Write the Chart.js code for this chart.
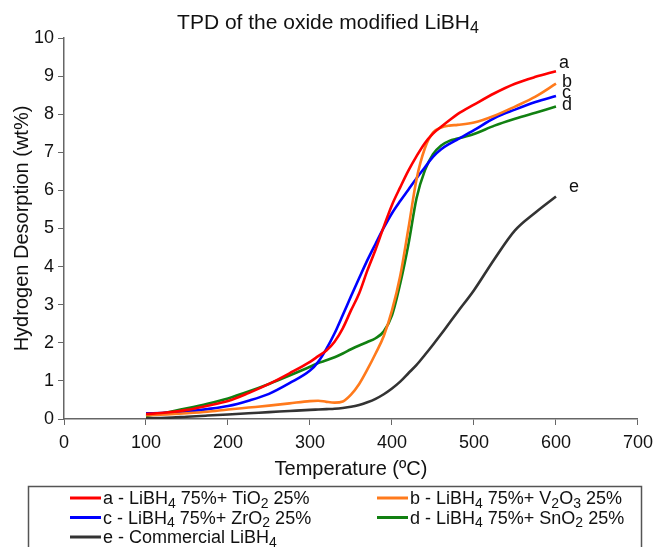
<!DOCTYPE html>
<html>
<head>
<meta charset="utf-8">
<script src="https://cdn.jsdelivr.net/npm/chart.js@4.4.0/dist/chart.umd.min.js"></script>
<style>
  html, body { margin: 0; padding: 0; background: #fff; }
</style>
</head>
<body>
<canvas id="tpd" width="660" height="547"></canvas>
<script>
// temperature (ºC) shared by all curves
var temperature = [100, 125, 150, 175, 200, 225, 250, 275, 300, 310, 320, 330, 340, 350, 360, 370,
                   380, 390, 400, 410, 420, 430, 440, 450, 460, 470, 480, 500, 525, 550, 575, 600];

// hydrogen desorbed (wt%)
var tio2 = [0.13, 0.17, 0.24, 0.35, 0.47, 0.68, 0.92, 1.20, 1.50, 1.65, 1.80, 2.03, 2.38, 2.85, 3.30, 3.90,
            4.45, 5.05, 5.62, 6.08, 6.52, 6.90, 7.24, 7.49, 7.67, 7.84, 8.00, 8.25, 8.55, 8.80, 8.98, 9.13];
var v2o3 = [0.10, 0.12, 0.15, 0.19, 0.25, 0.30, 0.35, 0.41, 0.47, 0.48, 0.45, 0.43, 0.46, 0.64, 0.92, 1.30,
            1.72, 2.18, 2.85, 3.75, 5.00, 6.30, 7.10, 7.52, 7.65, 7.70, 7.72, 7.78, 7.96, 8.20, 8.46, 8.80];
var zro2 = [0.15, 0.16, 0.20, 0.26, 0.34, 0.48, 0.66, 0.94, 1.27, 1.50, 1.84, 2.25, 2.73, 3.22, 3.70, 4.17,
            4.60, 5.02, 5.40, 5.72, 6.02, 6.32, 6.60, 6.88, 7.08, 7.22, 7.34, 7.58, 7.90, 8.12, 8.32, 8.48];
var sno2 = [0.08, 0.17, 0.28, 0.40, 0.54, 0.72, 0.92, 1.14, 1.37, 1.47, 1.54, 1.62, 1.72, 1.83, 1.93, 2.02,
            2.12, 2.30, 2.72, 3.55, 4.58, 5.80, 6.52, 6.95, 7.18, 7.30, 7.36, 7.48, 7.70, 7.88, 8.04, 8.20];
var commercial = [0.02, 0.03, 0.06, 0.09, 0.12, 0.15, 0.18, 0.21, 0.24, 0.25, 0.26, 0.27, 0.29, 0.32, 0.37, 0.44,
                  0.53, 0.65, 0.80, 0.98, 1.20, 1.42, 1.68, 1.95, 2.23, 2.52, 2.81, 3.38, 4.20, 4.95, 5.42, 5.84];

var seriesValues = [tio2, v2o3, zro2, sno2, commercial];
var seriesLabels = [
  'a - LiBH₄ 75%+ TiO₂ 25%',
  'b - LiBH₄ 75%+ V₂O₃ 25%',
  'c - LiBH₄ 75%+ ZrO₂ 25%',
  'd - LiBH₄ 75%+ SnO₂ 25%',
  'e - Commercial LiBH₄'
];
var curveTags = ['a', 'b', 'c', 'd', 'e'];
var seriesColors = ['#ff0000', '#ff7a1c', '#0000ff', '#118011', '#333333'];

var FONT = '"Liberation Sans", Arial, sans-serif';
var SUBS = '₀₁₂₃₄₅₆₇₈₉';

// draws text where unicode subscript digits are set smaller and lowered
function drawRich(ctx, text, x, y, size, align) {
  var runs = [], cur = '', sub = false;
  for (var ch of text) {
    var k = SUBS.indexOf(ch);
    var isSub = k >= 0;
    if (isSub !== sub && cur) { runs.push({t: cur, sub: sub}); cur = ''; }
    sub = isSub;
    cur += isSub ? String(k) : ch;
  }
  if (cur) runs.push({t: cur, sub: sub});
  var subSize = Math.round(size * 0.76);
  var total = 0;
  runs.forEach(function(r) {
    ctx.font = (r.sub ? subSize : size) + 'px ' + FONT;
    r.w = ctx.measureText(r.t).width;
    total += r.w;
  });
  var cx = align === 'center' ? x - total / 2 : x;
  ctx.textAlign = 'left';
  ctx.textBaseline = 'alphabetic';
  runs.forEach(function(r) {
    ctx.font = (r.sub ? subSize : size) + 'px ' + FONT;
    ctx.fillText(r.t, cx, y + (r.sub ? size * 0.22 : 0));
    cx += r.w;
  });
}

var decorations = {
  id: 'decorations',
  afterDraw: function(chart) {
    var ctx = chart.ctx;
    var xs = chart.scales.x, ys = chart.scales.y;
    ctx.save();
    ctx.fillStyle = '#111';

    // title
    drawRich(ctx, 'TPD of the oxide modified LiBH₄', 328, 28.5, 21, 'center');

    // curve tags at the end of each line
    var tagOffsets = [[3, -8], [6, -2], [6, -3], [6, -2], [13, -9]];
    ctx.font = '18px ' + FONT;
    ctx.textAlign = 'left';
    ctx.textBaseline = 'middle';
    chart.data.datasets.forEach(function(ds, i) {
      var last = ds.data[ds.data.length - 1];
      var px = xs.getPixelForValue(last.x) + tagOffsets[i][0];
      var py = ys.getPixelForValue(last.y) + tagOffsets[i][1];
      ctx.fillText(curveTags[i], px, py);
    });

    // boxed legend, two columns
    ctx.strokeStyle = '#555';
    ctx.lineWidth = 1.5;
    ctx.strokeRect(28.5, 486.5, 613, 80);
    chart.data.datasets.forEach(function(ds, i) {
      var col = i % 2, row = Math.floor(i / 2);
      var lx = col === 0 ? 70 : 377;
      var base = 504 + row * 19.5;
      ctx.strokeStyle = ds.borderColor;
      ctx.lineWidth = 3;
      ctx.beginPath();
      ctx.moveTo(lx, base - 6);
      ctx.lineTo(lx + 31, base - 6);
      ctx.stroke();
      ctx.fillStyle = '#111';
      drawRich(ctx, ds.label, lx + 33, base, 18, 'left');
    });
    ctx.restore();
  }
};

var datasets = seriesValues.map(function(vals, i) {
  return {
    label: seriesLabels[i],
    data: temperature.map(function(t, j) { return {x: t, y: vals[j]}; }),
    borderColor: seriesColors[i],
    backgroundColor: seriesColors[i],
    borderWidth: 2.6,
    pointRadius: 0,
    fill: false,
    cubicInterpolationMode: 'monotone'
  };
});

var tickFont = {family: FONT, size: 18};
var titleFont = {family: FONT, size: 20};

new Chart(document.getElementById('tpd'), {
  type: 'line',
  data: {datasets: datasets},
  options: {
    responsive: false,
    animation: false,
    devicePixelRatio: 1,
    layout: {padding: {top: 38, right: 21, left: 0, bottom: 63}},
    plugins: {
      legend: {display: false},
      title: {display: false},
      tooltip: {enabled: false}
    },
    scales: {
      x: {
        type: 'linear',
        min: 0, max: 700,
        ticks: {stepSize: 100, font: tickFont, color: '#111', padding: 7, maxRotation: 0},
        grid: {display: true, drawOnChartArea: false, drawTicks: true, tickLength: 6, color: '#666'},
        border: {display: true, color: '#666', width: 1.5},
        title: {display: true, text: 'Temperature (ºC)', font: titleFont, color: '#111', padding: {top: 0, bottom: 3}},
        afterFit: function(s) { s.height = 65; }
      },
      y: {
        min: 0, max: 10,
        ticks: {stepSize: 1, font: tickFont, color: '#111', padding: 4},
        grid: {display: true, drawOnChartArea: false, drawTicks: true, tickLength: 6, color: '#666'},
        border: {display: true, color: '#666', width: 1.5},
        title: {display: true, text: 'Hydrogen Desorption (wt%)', font: titleFont, color: '#111', padding: {top: 10, bottom: 0}},
        afterFit: function(s) { s.width = 64; }
      }
    }
  },
  plugins: [decorations]
});
</script>
</body>
</html>
